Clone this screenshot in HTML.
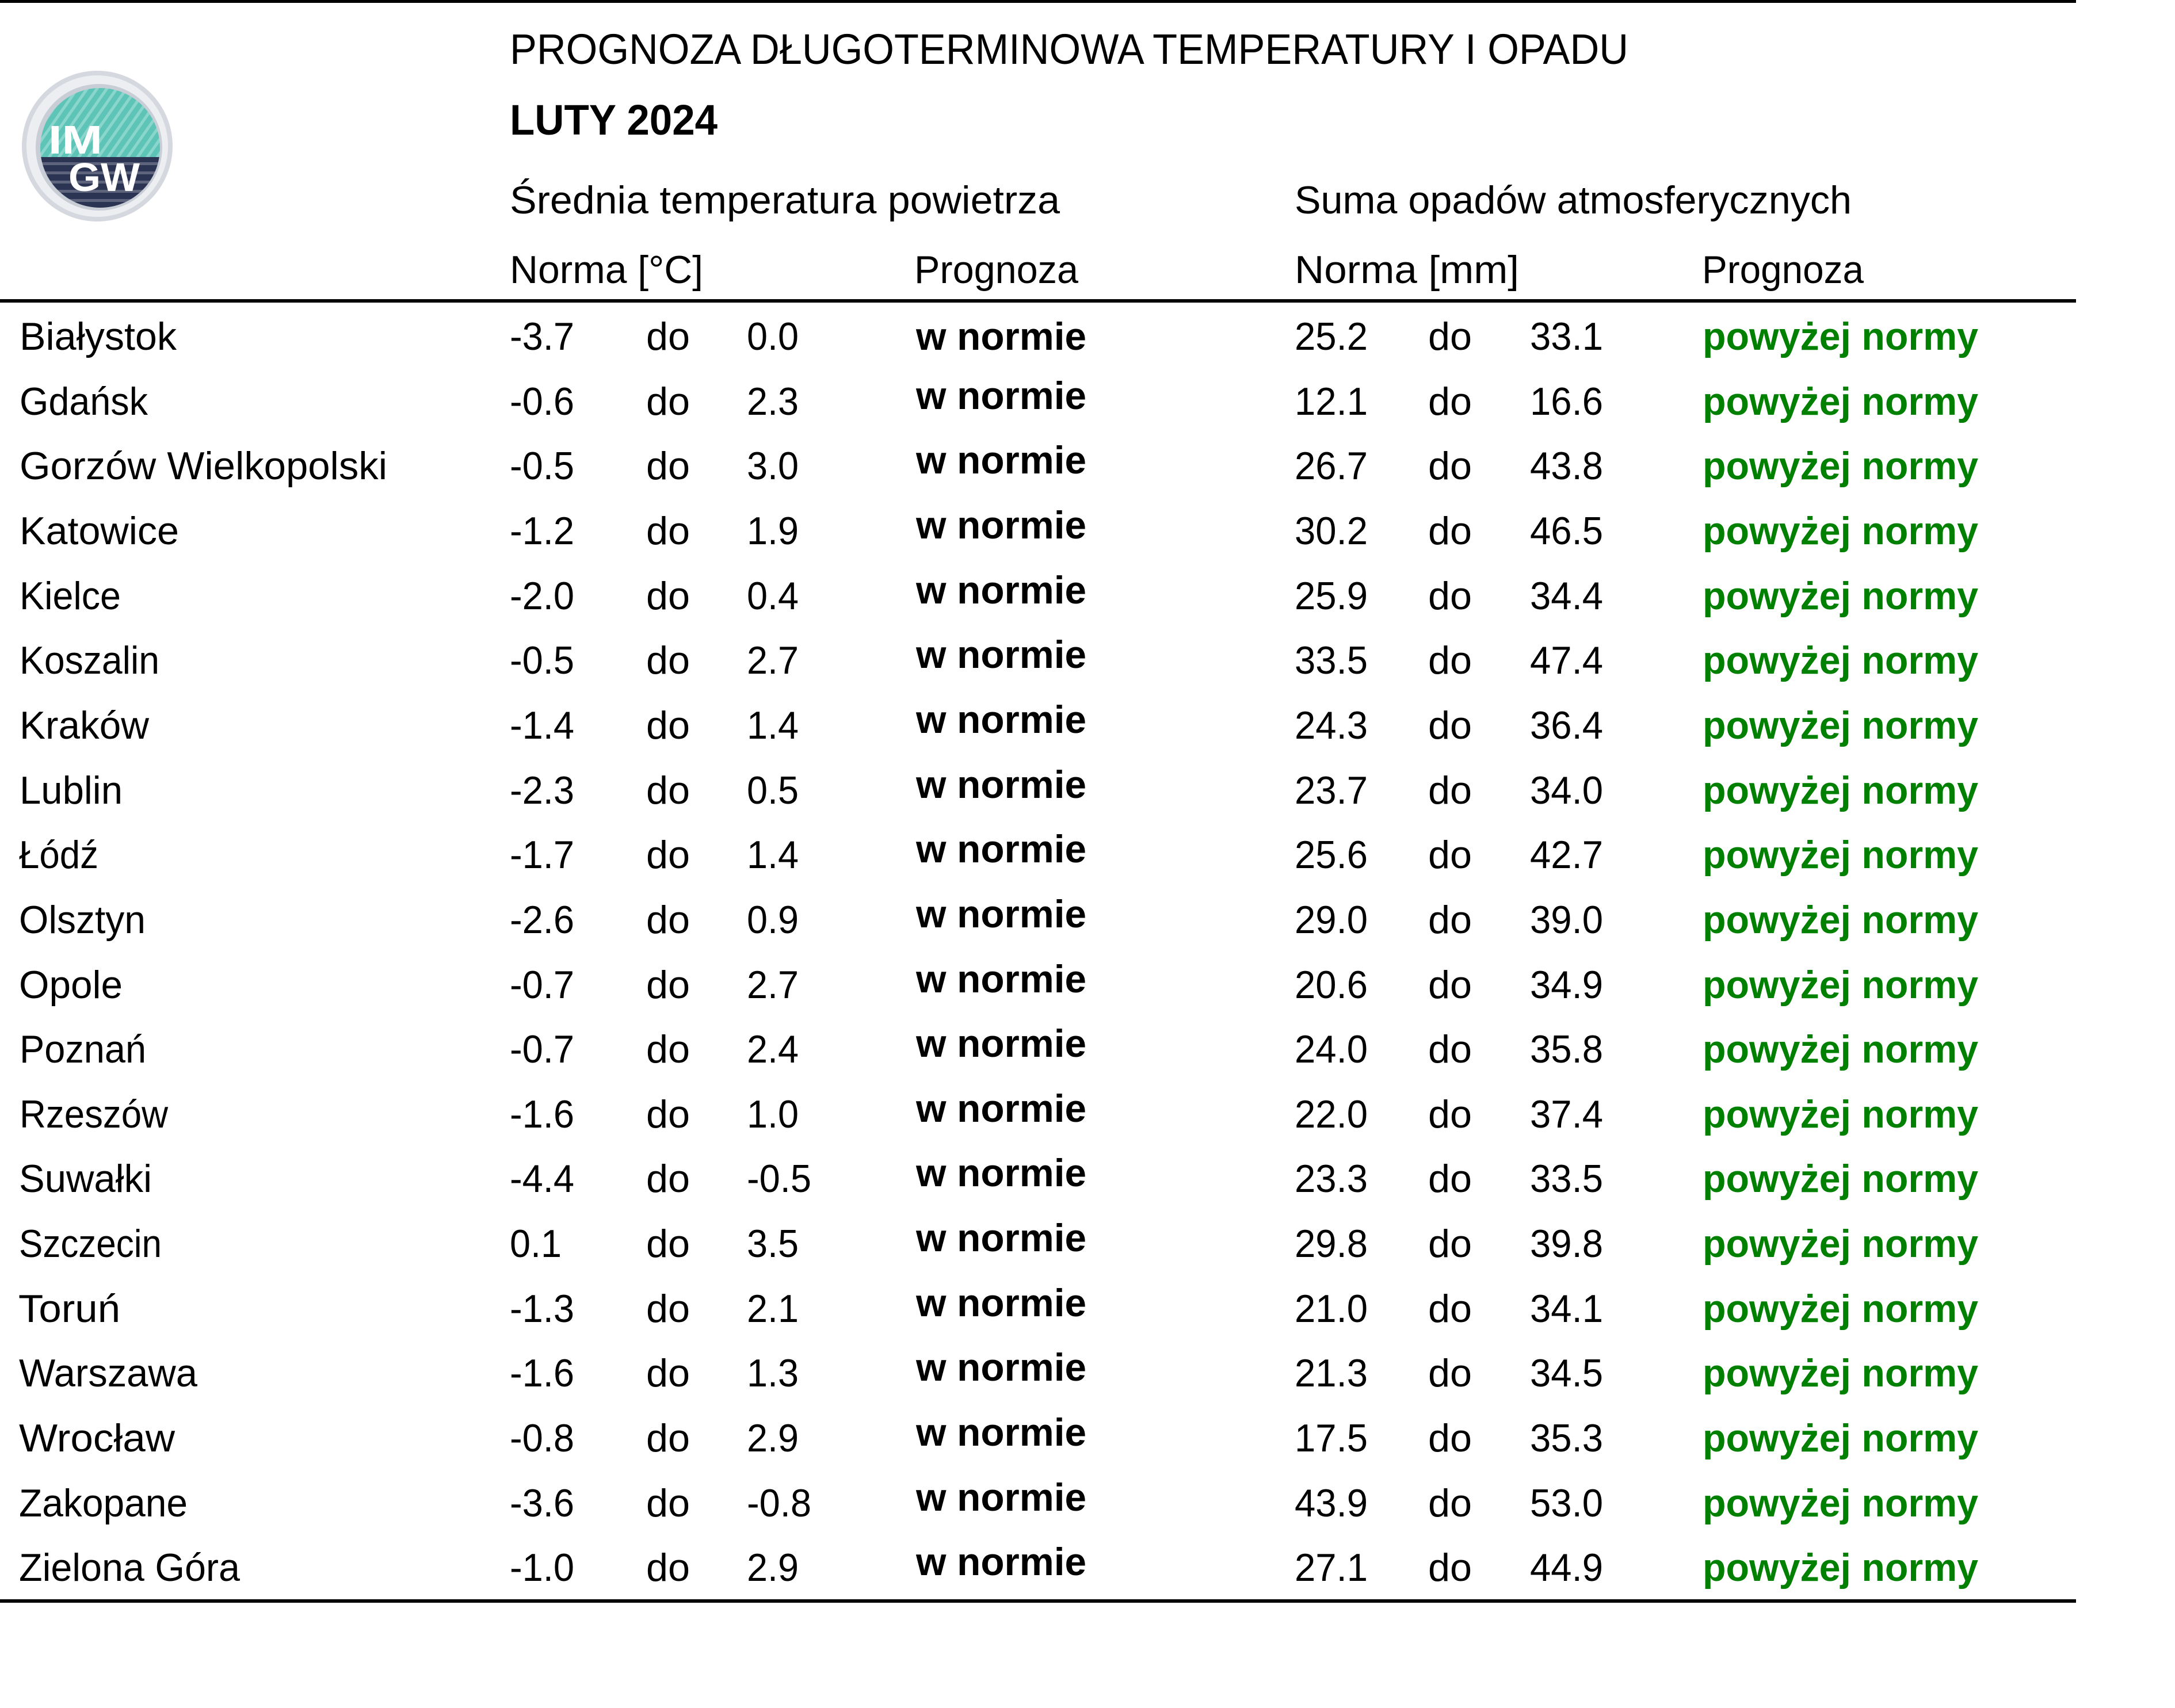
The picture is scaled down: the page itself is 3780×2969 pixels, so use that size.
<!DOCTYPE html>
<html><head><meta charset="utf-8"><style>
html,body{margin:0;padding:0;background:#fff;}
svg{display:block;}
text{font-family:"Liberation Sans",sans-serif;}
.r{font-size:68px;fill:#000;}
.b{font-size:68px;font-weight:bold;fill:#000;}
.g{font-size:68px;font-weight:bold;fill:#008000;}
</style></head><body>
<svg width="3780" height="2969" viewBox="0 0 3780 2969" xmlns="http://www.w3.org/2000/svg">
<defs>
<pattern id="diag" width="14" height="14" patternUnits="userSpaceOnUse" patternTransform="rotate(35)">
<rect width="14" height="14" fill="#5ec4b8"/><rect width="5" height="14" fill="#8ad6cd"/>
</pattern>
<pattern id="hor" width="14" height="16" patternUnits="userSpaceOnUse">
<rect width="14" height="16" fill="#2b3452"/><rect y="10" width="14" height="5" fill="#5d647c"/>
</pattern>
<clipPath id="disc"><circle cx="174" cy="257" r="104"/></clipPath>
</defs>
<rect width="3780" height="2969" fill="#fff"/>
<rect x="0" y="0" width="3608" height="5" fill="#000"/>
<rect x="0" y="520" width="3608" height="6" fill="#000"/>
<rect x="0" y="2780" width="3608" height="6" fill="#000"/>

<!-- logo -->
<circle cx="169" cy="254" r="131" fill="#d5d8df"/>
<circle cx="169" cy="254" r="123" fill="#eceef2"/>
<circle cx="172" cy="256" r="110" fill="#c9cdd6"/>
<g clip-path="url(#disc)">
<rect x="60" y="150" width="240" height="123" fill="url(#diag)"/>
<rect x="60" y="273" width="240" height="100" fill="url(#hor)"/>
</g>
<text x="84" y="267" style="font-size:70px;font-weight:bold;fill:#fff;" textLength="94" lengthAdjust="spacingAndGlyphs">IM</text>
<text x="119" y="332" style="font-size:70px;font-weight:bold;fill:#fff;" textLength="124" lengthAdjust="spacingAndGlyphs">GW</text>

<!-- headers -->
<text x="886" y="111" style="font-size:74px;" textLength="1944" lengthAdjust="spacingAndGlyphs">PROGNOZA DŁUGOTERMINOWA TEMPERATURY I OPADU</text>
<text x="886" y="234" style="font-size:74px;font-weight:bold;" textLength="361" lengthAdjust="spacingAndGlyphs">LUTY 2024</text>
<text class="r" x="886" y="371" textLength="956" lengthAdjust="spacingAndGlyphs">Średnia temperatura powietrza</text>
<text class="r" x="2250" y="371" textLength="968" lengthAdjust="spacingAndGlyphs">Suma opadów atmosferycznych</text>
<text class="r" x="886" y="492" textLength="336" lengthAdjust="spacingAndGlyphs">Norma [°C]</text>
<text class="r" x="1589" y="492" textLength="285" lengthAdjust="spacingAndGlyphs">Prognoza</text>
<text class="r" x="2250" y="492" textLength="390" lengthAdjust="spacingAndGlyphs">Norma [mm]</text>
<text class="r" x="2958" y="492" textLength="281" lengthAdjust="spacingAndGlyphs">Prognoza</text>

<!-- rows -->
<g id="rows">
<text class="r" x="34" y="608" textLength="273" lengthAdjust="spacingAndGlyphs">Białystok</text>
<text class="r" x="886" y="608" textLength="112" lengthAdjust="spacingAndGlyphs">-3.7</text>
<text class="r" x="1123" y="608" textLength="76" lengthAdjust="spacingAndGlyphs">do</text>
<text class="r" x="1298" y="608" textLength="90" lengthAdjust="spacingAndGlyphs">0.0</text>
<text class="b" x="1592" y="608" textLength="296" lengthAdjust="spacingAndGlyphs">w normie</text>
<text class="r" x="2250" y="608" textLength="127" lengthAdjust="spacingAndGlyphs">25.2</text>
<text class="r" x="2482" y="608" textLength="76" lengthAdjust="spacingAndGlyphs">do</text>
<text class="r" x="2659" y="608" textLength="127" lengthAdjust="spacingAndGlyphs">33.1</text>
<text class="g" x="2959" y="608" textLength="479" lengthAdjust="spacingAndGlyphs">powyżej normy</text>

<text class="r" x="34" y="721" textLength="223" lengthAdjust="spacingAndGlyphs">Gdańsk</text>
<text class="r" x="886" y="721" textLength="112" lengthAdjust="spacingAndGlyphs">-0.6</text>
<text class="r" x="1123" y="721" textLength="76" lengthAdjust="spacingAndGlyphs">do</text>
<text class="r" x="1298" y="721" textLength="90" lengthAdjust="spacingAndGlyphs">2.3</text>
<text class="b" x="1592" y="711" textLength="296" lengthAdjust="spacingAndGlyphs">w normie</text>
<text class="r" x="2250" y="721" textLength="127" lengthAdjust="spacingAndGlyphs">12.1</text>
<text class="r" x="2482" y="721" textLength="76" lengthAdjust="spacingAndGlyphs">do</text>
<text class="r" x="2659" y="721" textLength="127" lengthAdjust="spacingAndGlyphs">16.6</text>
<text class="g" x="2959" y="721" textLength="479" lengthAdjust="spacingAndGlyphs">powyżej normy</text>

<text class="r" x="34" y="833" textLength="639" lengthAdjust="spacingAndGlyphs">Gorzów Wielkopolski</text>
<text class="r" x="886" y="833" textLength="112" lengthAdjust="spacingAndGlyphs">-0.5</text>
<text class="r" x="1123" y="833" textLength="76" lengthAdjust="spacingAndGlyphs">do</text>
<text class="r" x="1298" y="833" textLength="90" lengthAdjust="spacingAndGlyphs">3.0</text>
<text class="b" x="1592" y="823" textLength="296" lengthAdjust="spacingAndGlyphs">w normie</text>
<text class="r" x="2250" y="833" textLength="127" lengthAdjust="spacingAndGlyphs">26.7</text>
<text class="r" x="2482" y="833" textLength="76" lengthAdjust="spacingAndGlyphs">do</text>
<text class="r" x="2659" y="833" textLength="127" lengthAdjust="spacingAndGlyphs">43.8</text>
<text class="g" x="2959" y="833" textLength="479" lengthAdjust="spacingAndGlyphs">powyżej normy</text>

<text class="r" x="34" y="946" textLength="277" lengthAdjust="spacingAndGlyphs">Katowice</text>
<text class="r" x="886" y="946" textLength="112" lengthAdjust="spacingAndGlyphs">-1.2</text>
<text class="r" x="1123" y="946" textLength="76" lengthAdjust="spacingAndGlyphs">do</text>
<text class="r" x="1298" y="946" textLength="90" lengthAdjust="spacingAndGlyphs">1.9</text>
<text class="b" x="1592" y="936" textLength="296" lengthAdjust="spacingAndGlyphs">w normie</text>
<text class="r" x="2250" y="946" textLength="127" lengthAdjust="spacingAndGlyphs">30.2</text>
<text class="r" x="2482" y="946" textLength="76" lengthAdjust="spacingAndGlyphs">do</text>
<text class="r" x="2659" y="946" textLength="127" lengthAdjust="spacingAndGlyphs">46.5</text>
<text class="g" x="2959" y="946" textLength="479" lengthAdjust="spacingAndGlyphs">powyżej normy</text>

<text class="r" x="34" y="1059" textLength="176" lengthAdjust="spacingAndGlyphs">Kielce</text>
<text class="r" x="886" y="1059" textLength="112" lengthAdjust="spacingAndGlyphs">-2.0</text>
<text class="r" x="1123" y="1059" textLength="76" lengthAdjust="spacingAndGlyphs">do</text>
<text class="r" x="1298" y="1059" textLength="90" lengthAdjust="spacingAndGlyphs">0.4</text>
<text class="b" x="1592" y="1049" textLength="296" lengthAdjust="spacingAndGlyphs">w normie</text>
<text class="r" x="2250" y="1059" textLength="127" lengthAdjust="spacingAndGlyphs">25.9</text>
<text class="r" x="2482" y="1059" textLength="76" lengthAdjust="spacingAndGlyphs">do</text>
<text class="r" x="2659" y="1059" textLength="127" lengthAdjust="spacingAndGlyphs">34.4</text>
<text class="g" x="2959" y="1059" textLength="479" lengthAdjust="spacingAndGlyphs">powyżej normy</text>

<text class="r" x="34" y="1171" textLength="243" lengthAdjust="spacingAndGlyphs">Koszalin</text>
<text class="r" x="886" y="1171" textLength="112" lengthAdjust="spacingAndGlyphs">-0.5</text>
<text class="r" x="1123" y="1171" textLength="76" lengthAdjust="spacingAndGlyphs">do</text>
<text class="r" x="1298" y="1171" textLength="90" lengthAdjust="spacingAndGlyphs">2.7</text>
<text class="b" x="1592" y="1161" textLength="296" lengthAdjust="spacingAndGlyphs">w normie</text>
<text class="r" x="2250" y="1171" textLength="127" lengthAdjust="spacingAndGlyphs">33.5</text>
<text class="r" x="2482" y="1171" textLength="76" lengthAdjust="spacingAndGlyphs">do</text>
<text class="r" x="2659" y="1171" textLength="127" lengthAdjust="spacingAndGlyphs">47.4</text>
<text class="g" x="2959" y="1171" textLength="479" lengthAdjust="spacingAndGlyphs">powyżej normy</text>

<text class="r" x="34" y="1284" textLength="225" lengthAdjust="spacingAndGlyphs">Kraków</text>
<text class="r" x="886" y="1284" textLength="112" lengthAdjust="spacingAndGlyphs">-1.4</text>
<text class="r" x="1123" y="1284" textLength="76" lengthAdjust="spacingAndGlyphs">do</text>
<text class="r" x="1298" y="1284" textLength="90" lengthAdjust="spacingAndGlyphs">1.4</text>
<text class="b" x="1592" y="1274" textLength="296" lengthAdjust="spacingAndGlyphs">w normie</text>
<text class="r" x="2250" y="1284" textLength="127" lengthAdjust="spacingAndGlyphs">24.3</text>
<text class="r" x="2482" y="1284" textLength="76" lengthAdjust="spacingAndGlyphs">do</text>
<text class="r" x="2659" y="1284" textLength="127" lengthAdjust="spacingAndGlyphs">36.4</text>
<text class="g" x="2959" y="1284" textLength="479" lengthAdjust="spacingAndGlyphs">powyżej normy</text>

<text class="r" x="34" y="1397" textLength="179" lengthAdjust="spacingAndGlyphs">Lublin</text>
<text class="r" x="886" y="1397" textLength="112" lengthAdjust="spacingAndGlyphs">-2.3</text>
<text class="r" x="1123" y="1397" textLength="76" lengthAdjust="spacingAndGlyphs">do</text>
<text class="r" x="1298" y="1397" textLength="90" lengthAdjust="spacingAndGlyphs">0.5</text>
<text class="b" x="1592" y="1387" textLength="296" lengthAdjust="spacingAndGlyphs">w normie</text>
<text class="r" x="2250" y="1397" textLength="127" lengthAdjust="spacingAndGlyphs">23.7</text>
<text class="r" x="2482" y="1397" textLength="76" lengthAdjust="spacingAndGlyphs">do</text>
<text class="r" x="2659" y="1397" textLength="127" lengthAdjust="spacingAndGlyphs">34.0</text>
<text class="g" x="2959" y="1397" textLength="479" lengthAdjust="spacingAndGlyphs">powyżej normy</text>

<text class="r" x="33" y="1509" textLength="138" lengthAdjust="spacingAndGlyphs">Łódź</text>
<text class="r" x="886" y="1509" textLength="112" lengthAdjust="spacingAndGlyphs">-1.7</text>
<text class="r" x="1123" y="1509" textLength="76" lengthAdjust="spacingAndGlyphs">do</text>
<text class="r" x="1298" y="1509" textLength="90" lengthAdjust="spacingAndGlyphs">1.4</text>
<text class="b" x="1592" y="1499" textLength="296" lengthAdjust="spacingAndGlyphs">w normie</text>
<text class="r" x="2250" y="1509" textLength="127" lengthAdjust="spacingAndGlyphs">25.6</text>
<text class="r" x="2482" y="1509" textLength="76" lengthAdjust="spacingAndGlyphs">do</text>
<text class="r" x="2659" y="1509" textLength="127" lengthAdjust="spacingAndGlyphs">42.7</text>
<text class="g" x="2959" y="1509" textLength="479" lengthAdjust="spacingAndGlyphs">powyżej normy</text>

<text class="r" x="33" y="1622" textLength="220" lengthAdjust="spacingAndGlyphs">Olsztyn</text>
<text class="r" x="886" y="1622" textLength="112" lengthAdjust="spacingAndGlyphs">-2.6</text>
<text class="r" x="1123" y="1622" textLength="76" lengthAdjust="spacingAndGlyphs">do</text>
<text class="r" x="1298" y="1622" textLength="90" lengthAdjust="spacingAndGlyphs">0.9</text>
<text class="b" x="1592" y="1612" textLength="296" lengthAdjust="spacingAndGlyphs">w normie</text>
<text class="r" x="2250" y="1622" textLength="127" lengthAdjust="spacingAndGlyphs">29.0</text>
<text class="r" x="2482" y="1622" textLength="76" lengthAdjust="spacingAndGlyphs">do</text>
<text class="r" x="2659" y="1622" textLength="127" lengthAdjust="spacingAndGlyphs">39.0</text>
<text class="g" x="2959" y="1622" textLength="479" lengthAdjust="spacingAndGlyphs">powyżej normy</text>

<text class="r" x="33" y="1735" textLength="180" lengthAdjust="spacingAndGlyphs">Opole</text>
<text class="r" x="886" y="1735" textLength="112" lengthAdjust="spacingAndGlyphs">-0.7</text>
<text class="r" x="1123" y="1735" textLength="76" lengthAdjust="spacingAndGlyphs">do</text>
<text class="r" x="1298" y="1735" textLength="90" lengthAdjust="spacingAndGlyphs">2.7</text>
<text class="b" x="1592" y="1725" textLength="296" lengthAdjust="spacingAndGlyphs">w normie</text>
<text class="r" x="2250" y="1735" textLength="127" lengthAdjust="spacingAndGlyphs">20.6</text>
<text class="r" x="2482" y="1735" textLength="76" lengthAdjust="spacingAndGlyphs">do</text>
<text class="r" x="2659" y="1735" textLength="127" lengthAdjust="spacingAndGlyphs">34.9</text>
<text class="g" x="2959" y="1735" textLength="479" lengthAdjust="spacingAndGlyphs">powyżej normy</text>

<text class="r" x="34" y="1847" textLength="220" lengthAdjust="spacingAndGlyphs">Poznań</text>
<text class="r" x="886" y="1847" textLength="112" lengthAdjust="spacingAndGlyphs">-0.7</text>
<text class="r" x="1123" y="1847" textLength="76" lengthAdjust="spacingAndGlyphs">do</text>
<text class="r" x="1298" y="1847" textLength="90" lengthAdjust="spacingAndGlyphs">2.4</text>
<text class="b" x="1592" y="1837" textLength="296" lengthAdjust="spacingAndGlyphs">w normie</text>
<text class="r" x="2250" y="1847" textLength="127" lengthAdjust="spacingAndGlyphs">24.0</text>
<text class="r" x="2482" y="1847" textLength="76" lengthAdjust="spacingAndGlyphs">do</text>
<text class="r" x="2659" y="1847" textLength="127" lengthAdjust="spacingAndGlyphs">35.8</text>
<text class="g" x="2959" y="1847" textLength="479" lengthAdjust="spacingAndGlyphs">powyżej normy</text>

<text class="r" x="34" y="1960" textLength="258" lengthAdjust="spacingAndGlyphs">Rzeszów</text>
<text class="r" x="886" y="1960" textLength="112" lengthAdjust="spacingAndGlyphs">-1.6</text>
<text class="r" x="1123" y="1960" textLength="76" lengthAdjust="spacingAndGlyphs">do</text>
<text class="r" x="1298" y="1960" textLength="90" lengthAdjust="spacingAndGlyphs">1.0</text>
<text class="b" x="1592" y="1950" textLength="296" lengthAdjust="spacingAndGlyphs">w normie</text>
<text class="r" x="2250" y="1960" textLength="127" lengthAdjust="spacingAndGlyphs">22.0</text>
<text class="r" x="2482" y="1960" textLength="76" lengthAdjust="spacingAndGlyphs">do</text>
<text class="r" x="2659" y="1960" textLength="127" lengthAdjust="spacingAndGlyphs">37.4</text>
<text class="g" x="2959" y="1960" textLength="479" lengthAdjust="spacingAndGlyphs">powyżej normy</text>

<text class="r" x="33" y="2072" textLength="231" lengthAdjust="spacingAndGlyphs">Suwałki</text>
<text class="r" x="886" y="2072" textLength="112" lengthAdjust="spacingAndGlyphs">-4.4</text>
<text class="r" x="1123" y="2072" textLength="76" lengthAdjust="spacingAndGlyphs">do</text>
<text class="r" x="1298" y="2072" textLength="112" lengthAdjust="spacingAndGlyphs">-0.5</text>
<text class="b" x="1592" y="2062" textLength="296" lengthAdjust="spacingAndGlyphs">w normie</text>
<text class="r" x="2250" y="2072" textLength="127" lengthAdjust="spacingAndGlyphs">23.3</text>
<text class="r" x="2482" y="2072" textLength="76" lengthAdjust="spacingAndGlyphs">do</text>
<text class="r" x="2659" y="2072" textLength="127" lengthAdjust="spacingAndGlyphs">33.5</text>
<text class="g" x="2959" y="2072" textLength="479" lengthAdjust="spacingAndGlyphs">powyżej normy</text>

<text class="r" x="33" y="2185" textLength="248" lengthAdjust="spacingAndGlyphs">Szczecin</text>
<text class="r" x="886" y="2185" textLength="90" lengthAdjust="spacingAndGlyphs">0.1</text>
<text class="r" x="1123" y="2185" textLength="76" lengthAdjust="spacingAndGlyphs">do</text>
<text class="r" x="1298" y="2185" textLength="90" lengthAdjust="spacingAndGlyphs">3.5</text>
<text class="b" x="1592" y="2175" textLength="296" lengthAdjust="spacingAndGlyphs">w normie</text>
<text class="r" x="2250" y="2185" textLength="127" lengthAdjust="spacingAndGlyphs">29.8</text>
<text class="r" x="2482" y="2185" textLength="76" lengthAdjust="spacingAndGlyphs">do</text>
<text class="r" x="2659" y="2185" textLength="127" lengthAdjust="spacingAndGlyphs">39.8</text>
<text class="g" x="2959" y="2185" textLength="479" lengthAdjust="spacingAndGlyphs">powyżej normy</text>

<text class="r" x="32" y="2298" textLength="177" lengthAdjust="spacingAndGlyphs">Toruń</text>
<text class="r" x="886" y="2298" textLength="112" lengthAdjust="spacingAndGlyphs">-1.3</text>
<text class="r" x="1123" y="2298" textLength="76" lengthAdjust="spacingAndGlyphs">do</text>
<text class="r" x="1298" y="2298" textLength="90" lengthAdjust="spacingAndGlyphs">2.1</text>
<text class="b" x="1592" y="2288" textLength="296" lengthAdjust="spacingAndGlyphs">w normie</text>
<text class="r" x="2250" y="2298" textLength="127" lengthAdjust="spacingAndGlyphs">21.0</text>
<text class="r" x="2482" y="2298" textLength="76" lengthAdjust="spacingAndGlyphs">do</text>
<text class="r" x="2659" y="2298" textLength="127" lengthAdjust="spacingAndGlyphs">34.1</text>
<text class="g" x="2959" y="2298" textLength="479" lengthAdjust="spacingAndGlyphs">powyżej normy</text>

<text class="r" x="33" y="2410" textLength="310" lengthAdjust="spacingAndGlyphs">Warszawa</text>
<text class="r" x="886" y="2410" textLength="112" lengthAdjust="spacingAndGlyphs">-1.6</text>
<text class="r" x="1123" y="2410" textLength="76" lengthAdjust="spacingAndGlyphs">do</text>
<text class="r" x="1298" y="2410" textLength="90" lengthAdjust="spacingAndGlyphs">1.3</text>
<text class="b" x="1592" y="2400" textLength="296" lengthAdjust="spacingAndGlyphs">w normie</text>
<text class="r" x="2250" y="2410" textLength="127" lengthAdjust="spacingAndGlyphs">21.3</text>
<text class="r" x="2482" y="2410" textLength="76" lengthAdjust="spacingAndGlyphs">do</text>
<text class="r" x="2659" y="2410" textLength="127" lengthAdjust="spacingAndGlyphs">34.5</text>
<text class="g" x="2959" y="2410" textLength="479" lengthAdjust="spacingAndGlyphs">powyżej normy</text>

<text class="r" x="33" y="2523" textLength="271" lengthAdjust="spacingAndGlyphs">Wrocław</text>
<text class="r" x="886" y="2523" textLength="112" lengthAdjust="spacingAndGlyphs">-0.8</text>
<text class="r" x="1123" y="2523" textLength="76" lengthAdjust="spacingAndGlyphs">do</text>
<text class="r" x="1298" y="2523" textLength="90" lengthAdjust="spacingAndGlyphs">2.9</text>
<text class="b" x="1592" y="2513" textLength="296" lengthAdjust="spacingAndGlyphs">w normie</text>
<text class="r" x="2250" y="2523" textLength="127" lengthAdjust="spacingAndGlyphs">17.5</text>
<text class="r" x="2482" y="2523" textLength="76" lengthAdjust="spacingAndGlyphs">do</text>
<text class="r" x="2659" y="2523" textLength="127" lengthAdjust="spacingAndGlyphs">35.3</text>
<text class="g" x="2959" y="2523" textLength="479" lengthAdjust="spacingAndGlyphs">powyżej normy</text>

<text class="r" x="33" y="2636" textLength="293" lengthAdjust="spacingAndGlyphs">Zakopane</text>
<text class="r" x="886" y="2636" textLength="112" lengthAdjust="spacingAndGlyphs">-3.6</text>
<text class="r" x="1123" y="2636" textLength="76" lengthAdjust="spacingAndGlyphs">do</text>
<text class="r" x="1298" y="2636" textLength="112" lengthAdjust="spacingAndGlyphs">-0.8</text>
<text class="b" x="1592" y="2626" textLength="296" lengthAdjust="spacingAndGlyphs">w normie</text>
<text class="r" x="2250" y="2636" textLength="127" lengthAdjust="spacingAndGlyphs">43.9</text>
<text class="r" x="2482" y="2636" textLength="76" lengthAdjust="spacingAndGlyphs">do</text>
<text class="r" x="2659" y="2636" textLength="127" lengthAdjust="spacingAndGlyphs">53.0</text>
<text class="g" x="2959" y="2636" textLength="479" lengthAdjust="spacingAndGlyphs">powyżej normy</text>

<text class="r" x="33" y="2748" textLength="384" lengthAdjust="spacingAndGlyphs">Zielona Góra</text>
<text class="r" x="886" y="2748" textLength="112" lengthAdjust="spacingAndGlyphs">-1.0</text>
<text class="r" x="1123" y="2748" textLength="76" lengthAdjust="spacingAndGlyphs">do</text>
<text class="r" x="1298" y="2748" textLength="90" lengthAdjust="spacingAndGlyphs">2.9</text>
<text class="b" x="1592" y="2738" textLength="296" lengthAdjust="spacingAndGlyphs">w normie</text>
<text class="r" x="2250" y="2748" textLength="127" lengthAdjust="spacingAndGlyphs">27.1</text>
<text class="r" x="2482" y="2748" textLength="76" lengthAdjust="spacingAndGlyphs">do</text>
<text class="r" x="2659" y="2748" textLength="127" lengthAdjust="spacingAndGlyphs">44.9</text>
<text class="g" x="2959" y="2748" textLength="479" lengthAdjust="spacingAndGlyphs">powyżej normy</text>
</g>
</svg>
</body></html>
